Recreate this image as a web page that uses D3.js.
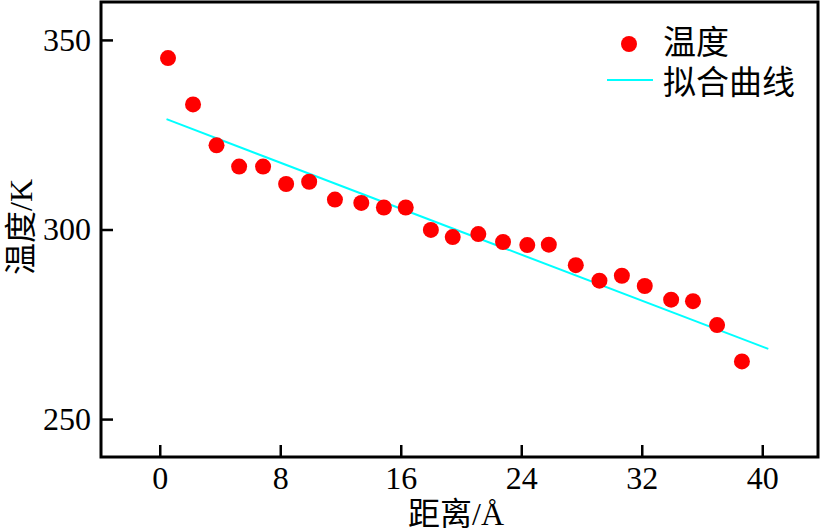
<!DOCTYPE html>
<html>
<head>
<meta charset="utf-8">
<script src="https://cdn.jsdelivr.net/npm/d3@7"></script>
<style>
  body { margin: 0; background: #fff; }
  svg { display: block; }
</style>
</head>
<body>
<svg id="chart" width="822" height="532"></svg>
<script>
// measured temperature points
const distance = [0.55, 2.21, 3.77, 5.27, 6.86, 8.39, 9.92, 11.63, 13.38, 14.88, 16.33, 18.0, 19.45,
  21.15, 22.79, 24.4, 25.83, 27.62, 29.19, 30.68, 32.2, 33.95, 35.4, 37.0, 38.65];
const temperature = [345.2, 333.0, 322.2, 316.6, 316.6, 312.0, 312.6, 307.9, 307.0, 305.8, 305.8, 299.9, 298.0,
  298.8, 296.7, 295.9, 296.0, 290.6, 286.5, 287.8, 285.1, 281.5, 281.1, 274.8, 265.2];
// fitted line end points
const fitX = [0.45, 40.4];
const fitY = [329.1, 268.5];
const xTicks = [0, 8, 16, 24, 32, 40];
const yTicks = [250, 300, 350];
const legendLabels = ['温度', '拟合曲线'];

const svg = d3.select('#chart');
const plotLeft = 101, plotRight = 818, plotTop = 2, plotBottom = 457;

const x = d3.scaleLinear().domain([-3.9, 43.7]).range([plotLeft, plotRight]);
const y = d3.scaleLinear().domain([240, 360]).range([plotBottom, plotTop]);

const serif = '"Liberation Serif", "Times New Roman", "Noto Sans CJK SC", serif';

// axes (ticks point inward)
const xAxis = svg.append('g')
  .attr('transform', `translate(0,${plotBottom})`)
  .call(d3.axisBottom(x).tickValues(xTicks).tickSizeInner(-12).tickSizeOuter(0).tickPadding(9));
const yAxis = svg.append('g')
  .attr('transform', `translate(${plotLeft},0)`)
  .call(d3.axisLeft(y).tickValues(yTicks).tickSizeInner(-12).tickSizeOuter(0).tickPadding(10));

[xAxis, yAxis].forEach(g => {
  g.select('.domain').remove();
  g.selectAll('line').attr('stroke', '#000').attr('stroke-width', 2.5);
  g.selectAll('text').attr('fill', '#000').style('font-family', serif).style('font-size', '32px');
});

// frame
svg.append('rect')
  .attr('x', plotLeft).attr('y', plotTop)
  .attr('width', plotRight - plotLeft).attr('height', plotBottom - plotTop)
  .attr('fill', 'none').attr('stroke', '#000').attr('stroke-width', 3);

// fit line
svg.append('line')
  .attr('x1', x(fitX[0])).attr('y1', y(fitY[0]))
  .attr('x2', x(fitX[1])).attr('y2', y(fitY[1]))
  .attr('stroke', '#00ffff').attr('stroke-width', 2);

// points
svg.selectAll('circle.pt')
  .data(distance)
  .enter()
  .append('circle')
  .attr('class', 'pt')
  .attr('cx', d => x(d))
  .attr('cy', (d, i) => y(temperature[i]))
  .attr('r', 8)
  .attr('fill', '#ff0000');

// legend
svg.append('circle').attr('cx', 629).attr('cy', 44).attr('r', 8).attr('fill', '#ff0000');
svg.append('line').attr('x1', 607).attr('x2', 653).attr('y1', 80).attr('y2', 80)
  .attr('stroke', '#00ffff').attr('stroke-width', 2);
svg.selectAll('text.leg')
  .data(legendLabels)
  .enter()
  .append('text')
  .attr('class', 'leg')
  .attr('x', 663)
  .attr('y', (d, i) => 54 + i * 40)
  .style('font-family', serif)
  .style('font-size', '33px')
  .text(d => d);

// axis titles
svg.append('text')
  .attr('x', 456).attr('y', 525)
  .attr('text-anchor', 'middle')
  .style('font-family', serif).style('font-size', '32px')
  .text('距离/Å');
svg.append('text')
  .attr('transform', 'translate(32,227) rotate(-90)')
  .attr('text-anchor', 'middle')
  .style('font-family', serif).style('font-size', '32px')
  .text('温度/K');
</script>
</body>
</html>
